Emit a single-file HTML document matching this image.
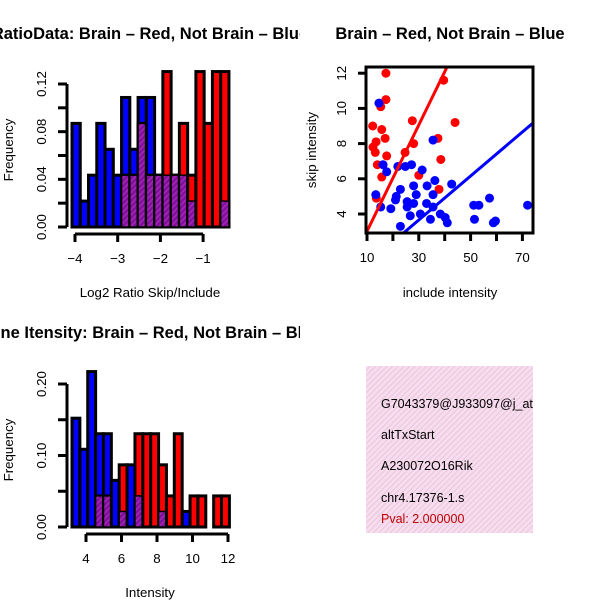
<!DOCTYPE html>
<html><head><meta charset="utf-8"><style>
html,body{margin:0;padding:0;background:#fff}
svg{display:block;font-family:"Liberation Sans",Arial,sans-serif}
</style></head><body>
<svg id="c" width="600" height="600" viewBox="0 0 600 600">
<defs>
<pattern id="pur" width="4" height="4" patternUnits="userSpaceOnUse" patternTransform="rotate(45)">
<rect width="4" height="4" fill="#8010a0"/><rect width="1.4" height="4" fill="#a828b0"/></pattern>
<pattern id="pink" width="4" height="4" patternUnits="userSpaceOnUse" patternTransform="rotate(45)">
<rect width="4" height="4" fill="#fadcf2"/><rect width="1.2" height="4" fill="#e6cbd8"/></pattern>
<clipPath id="cl"><rect x="0" y="0" width="300" height="600"/></clipPath>
<clipPath id="cbox"><rect x="366" y="366" width="167" height="167"/></clipPath>
<clipPath id="cscat"><rect x="366" y="67" width="167" height="166"/></clipPath>
</defs>
<g id="g1"></g><g id="g2"></g><g id="g3"></g>
<g>
<rect x="366" y="366" width="167" height="167" fill="url(#pink)"/>
<g clip-path="url(#cbox)" font-size="12.5">
<text x="381" y="408">G7043379@J933097@j_at</text>
<text x="381" y="439">altTxStart</text>
<text x="381" y="470">A230072O16Rik</text>
<text x="381" y="502">chr4.17376-1.s</text>
<text x="381" y="523" fill="#c00000">Pval: 2.000000</text>
</g></g>
</svg>
<script>
// Top-left histogram data (counts in units of 1/46)
const ratioBlue=[4,1,2,4,3,2,5,3,5,5,2,2,2,2,1,0,0,0,1];
const ratioRed=[0,0,0,0,0,0,2,2,4,2,2,6,2,4,2,6,4,6,6];
const ratioXTicks=[-4,-3,-2,-1];
const ratioYTicks=[0,0.02,0.04,0.06,0.08,0.10,0.12];
const ratioYLabels=["0.00","0.04","0.08","0.12"];
// Bottom-left histogram data
const intBlue=[7,5,10,6,6,3,1,4,2,0,0,1,0,0,1,0,0,0,0,0];
const intRed=[0,0,0,2,2,0,4,0,6,6,6,4,2,6,0,2,2,0,2,2];
const intXTicks=[4,6,8,10,12];
const intYTicks=[0,0.05,0.10,0.15,0.20];
const intYLabels=["0.00","0.10","0.20"];
// Scatter data
const redX=[17.3,17.3,15.3,12.2,15.7,17,13.5,12.3,13.2,17.6,14,15.7,24.7,28,27.5,39.6,44,37.4,38.5,30,37.8,13.6];
const redY=[12.0,10.5,10.1,9.0,8.8,8.3,8.1,7.8,7.5,7.3,6.8,6.1,7.5,8.0,9.3,11.6,9.2,8.3,7.1,6.2,5.4,4.9];
const blueX=[14.6,35.5,16.2,17.6,27.2,21.9,24.8,31.3,36.2,33.2,28,22.9,42.7,35.5,13.4,21.3,29,25.5,21,33,28,35.5,15.3,19.2,25.5,26.7,30.6,34.5,38.3,40.2,41,22.9,51.5,51.2,53.2,57.3,58.8,59.6,72];
const blueY=[10.3,8.2,6.8,6.4,6.8,6.7,6.7,6.5,5.9,5.6,5.6,5.4,5.7,5.1,5.1,5.0,5.1,4.7,4.8,4.6,4.6,4.4,4.4,4.3,4.4,3.9,4.0,3.7,4.0,3.8,3.5,3.3,3.7,4.5,4.5,4.9,3.5,3.6,4.5];
const redFit=[0.0,0.302];
const blueFit=[-0.09,0.125];
const scatXTicks=[10,20,30,40,50,60,70];
const scatXLabels=[10,30,50,70];
const scatYTicks=[4,6,8,10,12];

const NS="http://www.w3.org/2000/svg";
const FS=13.3, TFS=16.5;
function mk(p,t,a){const e=document.createElementNS(NS,t);for(const k in a)e.setAttribute(k,a[k]);p.appendChild(e);return e;}

function hist(g,blue,red,x0,bw,yScale,unit){
  const n=Math.max(blue.length,red.length);
  for(let i=0;i<n;i++){
    const x=x0+i*bw, b=blue[i]||0, r=red[i]||0, m=Math.min(b,r);
    if(b>0){const e=mk(g,'rect',{x:x,y:yScale(b/unit),width:bw,height:yScale(0)-yScale(b/unit),fill:'#0000ff',stroke:'#000','stroke-width':3});
      
      }
    if(r>0){const e=mk(g,'rect',{x:x,y:yScale(r/unit),width:bw,height:yScale(0)-yScale(r/unit),fill:'#ff0000',stroke:'#000','stroke-width':3});
      
      }
    if(m>0){const e=mk(g,'rect',{x:x,y:yScale(m/unit),width:bw,height:yScale(0)-yScale(m/unit),fill:'url(#pur)',stroke:'#000','stroke-width':1.5});
      
      }
  }
}
function yAxis(g,ticks,labels,ys,ax){
  mk(g,'line',{x1:ax,x2:ax,y1:ys(ticks[0]),y2:ys(ticks[ticks.length-1]),stroke:'#000','stroke-width':3});
  ticks.forEach(t=>mk(g,'line',{x1:ax-9,x2:ax,y1:ys(t),y2:ys(t),stroke:'#000','stroke-width':3}));
  labels.forEach(l=>{const y=ys(parseFloat(l));const e=mk(g,'text',{x:0,y:0,'font-size':FS,'text-anchor':'middle',transform:`translate(46,${y}) rotate(-90)`});e.textContent=l;
    
    });
}
function xAxis(g,ticks,labels,xs,ay){
  mk(g,'line',{x1:xs(ticks[0]),x2:xs(ticks[ticks.length-1]),y1:ay,y2:ay,stroke:'#000','stroke-width':3});
  ticks.forEach(t=>mk(g,'line',{x1:xs(t),x2:xs(t),y1:ay,y2:ay+8,stroke:'#000','stroke-width':3}));
  labels.forEach(l=>{const e=mk(g,'text',{x:xs(l),y:ay+29,'font-size':FS,'text-anchor':'middle'});e.textContent=String(l).replace('-','\u2212');
    
    });
}
function txt(g,s,a,name){const e=mk(g,'text',a);e.textContent=s;return e;}

// Panel 1
const g1=document.getElementById('g1');


g1.setAttribute('clip-path','url(#cl)');
{const xs=v=>75+(v+4)*42.7, ys=v=>227-v*1191.7;
 hist(g1,ratioBlue,ratioRed,72,8.26,ys,46);
 yAxis(g1,ratioYTicks,ratioYLabels,ys,67);
 xAxis(g1,ratioXTicks,ratioXTicks,xs,234);
 txt(g1,'Log2 Ratio Skip/Include',{x:150,y:297,'font-size':FS,'text-anchor':'middle'},'x-axis-title');
 txt(g1,'Frequency',{x:0,y:0,'font-size':FS,'text-anchor':'middle',transform:'translate(13,150) rotate(-90)'},'y-axis-title');
 txt(g1,'RatioData: Brain \u2013 Red, Not Brain \u2013 Blue',{x:150,y:39,'font-size':TFS,'font-weight':'bold','text-anchor':'middle'},'chart-title');}

// Panel 3
const g3=document.getElementById('g3');


g3.setAttribute('clip-path','url(#cl)');
{const xs=v=>86+(v-4)*17.75, ys=v=>527-v*715;
 hist(g3,intBlue,intRed,72,7.87,ys,46);
 yAxis(g3,intYTicks,intYLabels,ys,67);
 xAxis(g3,intXTicks,intXTicks,xs,534);
 txt(g3,'Intensity',{x:150,y:597,'font-size':FS,'text-anchor':'middle'},'x-axis-title');
 txt(g3,'Frequency',{x:0,y:0,'font-size':FS,'text-anchor':'middle',transform:'translate(13,450) rotate(-90)'},'y-axis-title');
 txt(g3,'Gene Itensity: Brain \u2013 Red, Not Brain \u2013 Blue',{x:150,y:338,'font-size':TFS,'font-weight':'bold','text-anchor':'middle'},'chart-title');}

// Panel 2 scatter
const g2=document.getElementById('g2');


{const xs=v=>367+(v-10)*2.59, ys=v=>214-(v-4)*17.6;
 const pg=mk(g2,'g',{'clip-path':'url(#cscat)'});
 redX.forEach((x,i)=>{const e=mk(pg,'circle',{cx:xs(x),cy:ys(redY[i]),r:4.5,fill:'#ff0000'});
   
   });
 blueX.forEach((x,i)=>{const e=mk(pg,'circle',{cx:xs(x),cy:ys(blueY[i]),r:4.5,fill:'#0000ff'});
   
   });
 const l1=mk(pg,'line',{x1:xs(0),y1:ys(redFit[0]),x2:xs(80),y2:ys(redFit[0]+redFit[1]*80),stroke:'#ff0000','stroke-width':3});
 
 
 const l2=mk(pg,'line',{x1:xs(0),y1:ys(blueFit[0]),x2:xs(80),y2:ys(blueFit[0]+blueFit[1]*80),stroke:'#0000ff','stroke-width':3});
 
 
 const b=mk(g2,'rect',{x:366,y:67,width:167,height:166,fill:'none',stroke:'#000','stroke-width':3});
 
 
 scatXTicks.forEach(t=>mk(g2,'line',{x1:xs(t),x2:xs(t),y1:233,y2:241,stroke:'#000','stroke-width':3}));
 scatXLabels.forEach(t=>txt(g2,String(t),{x:xs(t),y:262,'font-size':FS,'text-anchor':'middle'},'x-tick-label'));
 scatYTicks.forEach(t=>{mk(g2,'line',{x1:358,x2:366,y1:ys(t),y2:ys(t),stroke:'#000','stroke-width':3});
   txt(g2,String(t),{x:0,y:0,'font-size':FS,'text-anchor':'middle',transform:`translate(346,${ys(t)}) rotate(-90)`},'y-tick-label');});
 txt(g2,'include intensity',{x:450,y:297,'font-size':FS,'text-anchor':'middle'},'x-axis-title');
 txt(g2,'skip intensity',{x:0,y:0,'font-size':FS,'text-anchor':'middle',transform:'translate(316,150) rotate(-90)'},'y-axis-title');
 txt(g2,'Brain \u2013 Red, Not Brain \u2013 Blue',{x:450,y:39,'font-size':TFS,'font-weight':'bold','text-anchor':'middle'},'chart-title');}
</script>
</body></html>
